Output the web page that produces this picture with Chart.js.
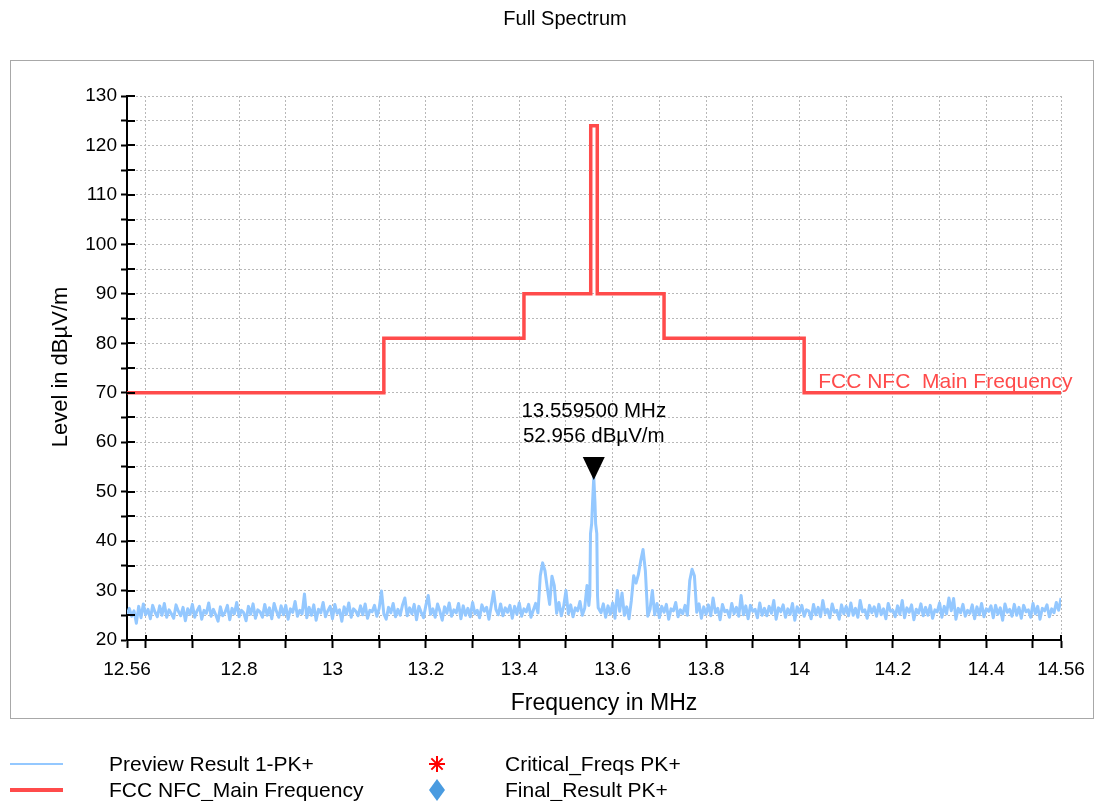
<!DOCTYPE html>
<html>
<head>
<meta charset="utf-8">
<title>Full Spectrum</title>
<script src="https://cdn.jsdelivr.net/npm/chart.js@4.4.1/dist/chart.umd.min.js"></script>
<style>
  html, body { margin: 0; padding: 0; background: #fff; }
</style>
</head>
<body>
<canvas id="myChart" width="1104" height="801"></canvas>
<script>
// sweep: 12.56 MHz .. 14.56 MHz, one reading every 5 kHz (401 readings)
let sweepStart = 12.56;
let sweepStep = 0.005;
let sweepLevels = [
    25.2, 26.4, 24.8, 25.9, 23.4, 26.8, 24.5, 27.3, 25.1, 26.2, 24.3, 27.0, 25.6, 24.7, 26.9, 25.0, 27.4, 24.6, 26.1, 25.3,
    24.4, 27.1, 25.8, 24.9, 26.6, 23.9, 26.3, 25.2, 27.2, 24.6, 25.9, 26.8, 24.2, 26.0, 25.4, 27.5, 24.8, 26.2, 25.1, 23.8,
    26.7, 24.9, 25.6, 27.0, 24.1, 26.4, 25.3, 27.6, 24.7, 26.0, 25.5, 23.9, 26.8, 25.2, 27.3, 24.4, 26.1, 25.7, 24.6, 27.2,
    25.0, 26.5, 24.3, 27.4, 25.8, 24.6, 26.9, 25.1, 27.0, 24.2, 26.3, 25.6, 27.8, 24.8, 26.0, 25.3, 29.3, 24.5, 26.6, 25.0,
    27.1, 24.0, 26.2, 25.5, 27.6, 24.7, 25.9, 26.8, 24.3, 27.2, 25.4, 26.1, 23.8, 26.7, 25.2, 27.5, 24.6, 26.3, 25.8, 24.9,
    26.9, 25.1, 27.3, 24.4, 26.0, 25.7, 27.0, 24.8, 26.4, 29.9, 25.3, 24.2, 26.6, 25.5, 27.4, 24.7, 26.2, 25.0, 27.1, 28.5,
    24.9, 26.5, 25.3, 27.2, 24.1, 26.8, 25.6, 24.5, 27.0, 29.0, 25.2, 26.3, 24.6, 27.3, 25.8, 24.0, 26.7, 25.4, 27.5, 24.8,
    26.1, 25.5, 27.4, 24.3, 26.9, 25.0, 26.4, 24.7, 27.6, 25.3, 26.0, 24.5, 27.1, 25.8, 26.6, 24.2, 27.0, 29.8, 26.2, 25.1,
    27.3, 24.9, 26.5, 25.6, 27.0, 24.4, 26.8, 25.2, 27.5, 24.8, 26.3, 25.7, 27.2, 24.6, 26.0, 27.4, 25.5, 33.0, 35.6, 34.0,
    30.5, 27.2, 32.9, 31.0, 25.4, 27.6, 24.9, 26.8, 30.0, 25.3, 27.1, 24.7, 26.5, 25.9, 27.8, 25.0, 26.4, 31.0, 27.0, 30.0,
    26.0, 26.0, 26.0, 25.5, 27.3, 24.6, 26.9, 25.2, 27.5, 24.4, 30.0, 25.8, 29.5, 25.0, 26.7, 24.3, 28.0, 33.0, 31.5, 33.2,
    36.0, 38.3, 34.0, 24.8, 26.2, 30.0, 25.1, 27.4, 24.5, 26.8, 25.6, 27.2, 24.2, 26.3, 25.9, 27.6, 24.7, 26.1, 25.3, 27.0,
    25.0, 32.0, 34.3, 33.0, 25.6, 27.3, 24.4, 26.7, 25.2, 27.1, 24.9, 28.5, 25.5, 26.4, 24.1, 27.2, 25.7, 26.0, 24.6, 27.4,
    25.3, 26.6, 24.8, 29.0, 25.1, 26.9, 24.3, 27.0, 25.8, 26.2, 24.5, 27.5, 25.0, 26.4, 24.9, 26.8, 25.4, 28.0, 24.2, 26.5,
    25.7, 27.1, 24.6, 26.3, 25.2, 27.4, 24.0, 26.7, 25.5, 27.0, 24.8, 26.1, 25.9, 24.3, 27.2, 25.1, 26.6, 24.7, 28.0, 25.4,
    26.2, 24.5, 27.3, 25.6, 26.0, 24.2, 27.1, 25.3, 26.8, 24.9, 27.5, 25.0, 26.4, 24.6, 28.0, 25.7, 26.1, 24.4, 27.0, 25.5,
    26.7, 24.8, 27.2, 25.1, 26.3, 24.3, 27.4, 25.8, 26.0, 24.7, 26.9, 25.2, 28.0, 24.5, 26.5, 25.6, 27.1, 24.1, 26.2, 25.4,
    27.3, 24.9, 26.6, 25.0, 27.0, 24.4, 26.1, 25.7, 27.5, 24.6, 26.8, 25.3, 28.5, 25.9, 28.4, 24.2, 26.4, 25.5, 27.2, 24.8,
    26.0, 25.4, 27.1, 24.3, 26.7, 25.1, 27.4, 24.7, 26.3, 25.8, 26.9, 24.5, 27.0, 25.2, 26.5, 24.0, 27.3, 25.6, 26.2, 24.8,
    27.2, 25.0, 26.6, 24.4, 27.0, 25.7, 26.1, 24.6, 27.4, 25.3, 26.8, 24.2, 26.4, 25.9, 27.1, 24.7, 26.3, 25.5, 27.6, 26.0,
    28.5
];

// carrier at 13.56 MHz, read at a finer step
let peakFreqs  = [13.549, 13.551, 13.5525, 13.555, 13.557, 13.5595, 13.562, 13.5635, 13.566, 13.5675, 13.569];
let peakLevels = [27.0, 29.0, 41.5, 43.5, 48.0, 52.956, 48.0, 43.5, 41.5, 29.0, 26.5];

// FCC 15.225 limit line (step corners)
let limitFreqs  = [12.56, 13.11, 13.11, 13.41, 13.41, 13.553, 13.553, 13.567, 13.567, 13.71, 13.71, 14.01, 14.01, 14.56];
let limitLevels = [70, 70, 81, 81, 90, 90, 124, 124, 90, 90, 81, 81, 70, 70];

let xTickLabels = [12.56, 12.8, 13, 13.2, 13.4, 13.6, 13.8, 14, 14.2, 14.4, 14.56];

let markerFreq = 13.5595;
let markerLevel = 52.956;

let traceColor = "#94c8ff";
let limitColor = "#ff4b4b";
let fontName = "'Liberation Sans', Arial, sans-serif";


let tracePoints = [];
sweepLevels.forEach(function (level, i) {
    let f = +(sweepStart + i * sweepStep).toFixed(3);
    if (f > 13.547 && f < 13.571) return;
    tracePoints.push({ x: f, y: level });
});
peakFreqs.forEach(function (f, i) {
    tracePoints.push({ x: f, y: peakLevels[i] });
});
tracePoints.sort(function (a, b) { return a.x - b.x; });

let limitPoints = limitFreqs.map(function (f, i) {
    return { x: f, y: limitLevels[i] };
});

let xTickValues = [12.56];
for (let k = 126; k <= 145; k++) xTickValues.push(k / 10);
xTickValues.push(14.56);


let decorations = {
    id: "decorations",
    beforeDraw(chart) {
        let ctx = chart.ctx;
        ctx.save();
        ctx.fillStyle = "#fff";
        ctx.fillRect(0, 0, chart.width, chart.height);
        ctx.strokeStyle = "#a8a8a8";
        ctx.lineWidth = 1;
        ctx.strokeRect(10.5, 60.5, 1083, 658);
        ctx.restore();
    },
    afterDraw(chart) {
        let ctx = chart.ctx;
        let xs = chart.scales.x, ys = chart.scales.y;
        let area = chart.chartArea;
        ctx.save();

        // tick marks cross into the plot
        ctx.strokeStyle = "#000";
        ctx.lineWidth = 2;
        ctx.beginPath();
        ys.ticks.forEach(function (t) {
            let y = Math.round(ys.getPixelForValue(t.value));
            ctx.moveTo(area.left, y);
            ctx.lineTo(area.left + 8, y);
        });
        xs.ticks.forEach(function (t) {
            let x = Math.round(xs.getPixelForValue(t.value));
            ctx.moveTo(x, area.bottom);
            ctx.lineTo(x, area.bottom - 5);
        });
        ctx.stroke();

        ctx.fillStyle = "#000";
        ctx.textBaseline = "middle";

        // title and axis titles
        ctx.textAlign = "center";
        ctx.font = "20px " + fontName;
        ctx.fillText("Full Spectrum", 565, 19);
        ctx.font = "23px " + fontName;
        ctx.fillText("Frequency in MHz", 604, 704);
        ctx.font = "22px " + fontName;
        ctx.save();
        ctx.translate(61, 367);
        ctx.rotate(-Math.PI / 2);
        ctx.fillText("Level in dB\u00b5V/m", 0, 0);
        ctx.restore();

        // marker on the carrier
        let mx = xs.getPixelForValue(markerFreq);
        let my = ys.getPixelForValue(markerLevel);
        ctx.beginPath();
        ctx.moveTo(mx - 11, my - 20);
        ctx.lineTo(mx + 11, my - 20);
        ctx.lineTo(mx, my + 3);
        ctx.closePath();
        ctx.fill();
        ctx.font = "20.5px " + fontName;
        ctx.fillText(markerFreq.toFixed(6) + " MHz", mx, my - 66);
        ctx.fillText(markerLevel.toFixed(3) + " dB\u00b5V/m", mx, my - 41);

        // limit line label
        ctx.textAlign = "left";
        ctx.font = "21px " + fontName;
        ctx.fillStyle = limitColor;
        ctx.fillText("FCC NFC  Main Frequency", xs.getPixelForValue(14.01) + 14, ys.getPixelForValue(72.1));

        // legend
        ctx.fillStyle = "#000";
        ctx.fillText(chart.data.datasets[0].label, 109, 765);
        ctx.fillText(chart.data.datasets[1].label, 109, 791);
        ctx.fillText(chart.data.datasets[2].label, 505, 765);
        ctx.fillText(chart.data.datasets[3].label, 505, 791);

        ctx.lineWidth = 2;
        ctx.strokeStyle = traceColor;
        ctx.beginPath();
        ctx.moveTo(10, 764);
        ctx.lineTo(63, 764);
        ctx.stroke();
        ctx.lineWidth = 4;
        ctx.strokeStyle = limitColor;
        ctx.beginPath();
        ctx.moveTo(10, 790);
        ctx.lineTo(63, 790);
        ctx.stroke();

        // red asterisk
        ctx.lineWidth = 2;
        ctx.strokeStyle = "#ff0000";
        ctx.beginPath();
        for (let a = 0; a < 4; a++) {
            let ang = a * Math.PI / 4;
            ctx.moveTo(437 - 8 * Math.sin(ang), 764 - 8 * Math.cos(ang));
            ctx.lineTo(437 + 8 * Math.sin(ang), 764 + 8 * Math.cos(ang));
        }
        ctx.stroke();

        // blue diamond
        ctx.fillStyle = "#4a9be0";
        ctx.beginPath();
        ctx.moveTo(437, 779);
        ctx.lineTo(445, 790);
        ctx.lineTo(437, 801);
        ctx.lineTo(429, 790);
        ctx.closePath();
        ctx.fill();

        ctx.restore();
    }
};


let spectrumChart = new Chart("myChart", {
    type: "line",
    data: {
        datasets: [{
            label: "Preview Result 1-PK+",
            data: tracePoints,
            borderColor: traceColor,
            borderWidth: 3,
            borderJoinStyle: "round",
            pointRadius: 0,
            tension: 0
        }, {
            label: "FCC NFC_Main Frequency",
            data: limitPoints,
            borderColor: limitColor,
            borderWidth: 3.5,
            borderJoinStyle: "miter",
            pointRadius: 0,
            tension: 0
        }, {
            label: "Critical_Freqs PK+",
            data: [],
            borderColor: "#ff0000",
            pointStyle: "star"
        }, {
            label: "Final_Result PK+",
            data: [],
            borderColor: "#4a9be0",
            pointStyle: "rectRot"
        }]
    },
    options: {
        responsive: false,
        animation: false,
        devicePixelRatio: 1,
        layout: { padding: { left: 10, top: 96, right: 43, bottom: 83 } },
        plugins: {
            legend: { display: false },
            title: { display: false },
            tooltip: { enabled: false }
        },
        scales: {
            x: {
                type: "linear",
                min: 12.56,
                max: 14.56,
                afterFit: function (scale) { scale.height = 78; },
                afterBuildTicks: function (scale) {
                    scale.ticks = xTickValues.map(function (v) { return { value: v }; });
                },
                ticks: {
                    autoSkip: false,
                    maxRotation: 0,
                    padding: 10,
                    color: "#000",
                    font: { family: fontName, size: 19 },
                    callback: function (value) {
                        let v = +(+value).toFixed(2);
                        return xTickLabels.indexOf(v) >= 0 ? String(v) : "";
                    }
                },
                grid: {
                    color: "#b8b8b8",
                    lineWidth: 1,
                    tickColor: "#000",
                    tickWidth: 2,
                    tickLength: 8
                },
                border: { display: true, color: "#000", width: 2, dash: [2, 2] }
            },
            y: {
                min: 20,
                max: 130,
                afterFit: function (scale) { scale.width = 117; },
                ticks: {
                    stepSize: 5,
                    autoSkip: false,
                    padding: 4,
                    color: "#000",
                    font: { family: fontName, size: 19 },
                    callback: function (value) {
                        return value % 10 === 0 ? String(value) : "";
                    }
                },
                grid: {
                    color: "#b8b8b8",
                    lineWidth: 1,
                    tickColor: "#000",
                    tickWidth: 2,
                    tickLength: 6
                },
                border: { display: true, color: "#000", width: 2, dash: [2, 2] }
            }
        }
    },
    plugins: [decorations]
});
</script>
</body>
</html>
